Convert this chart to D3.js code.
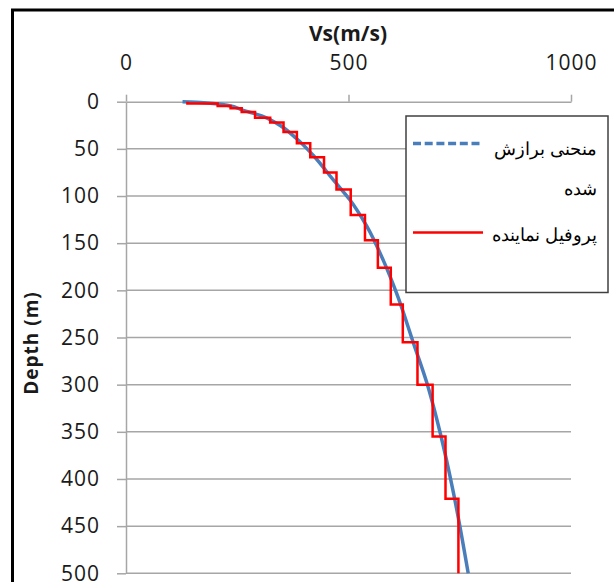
<!DOCTYPE html>
<html>
<head>
<meta charset="utf-8">
<script src="https://cdn.jsdelivr.net/npm/d3@7"></script>
<style>
  body { margin: 0; background: #fff; }
  svg { display: block; }
  text { font-family: "Open Sans", sans-serif; }
</style>
</head>
<body>
<div id="chart"></div>
<script>
// axis ticks
var vsTicks = [0, 500, 1000];
var depthTicks = [0, 50, 100, 150, 200, 250, 300, 350, 400, 450, 500];

// representative profile (red steps): layer top, bottom, Vs
var layerTop    = [0, 2, 4.5, 7, 11, 17, 22, 32, 44, 59, 75, 93, 120, 147, 176, 215, 255, 300, 355, 421];
var layerBottom = [2, 4.5, 7, 11, 17, 22, 32, 44, 59, 75, 93, 120, 147, 176, 215, 255, 300, 355, 421, 500];
var layerVs     = [138, 206, 235, 260, 290, 324, 354, 384, 414, 445, 473, 505, 537, 566, 595, 622, 655, 689, 718, 747];

// fitted curve (blue)
var fitDepth = [0, 1, 4, 9, 15, 23, 39, 57, 83, 104, 132, 168, 203, 256, 298, 351, 415, 500];
var fitVs    = [127, 175, 230, 262, 305, 339, 383, 421, 466, 503, 541, 578, 608, 646, 676, 706, 736, 769];

var legendLines = [["منحنی برازش", "شده"], ["پروفیل نماینده"]];

(function() {
  var svg = d3
    .select("#chart")
    .append("svg")
    .attr("width", 614)
    .attr("height", 582);

  var x = d3.scaleLinear().domain([0, 1000]).range([126, 571]);
  var y = d3.scaleLinear().domain([0, 500]).range([101.7, 573.3]);
  var grey = "#a6a6a6";

  // outer frame (top + left)
  svg.append("path")
    .attr("d", "M12.5,582 V10 H614")
    .attr("fill", "none")
    .attr("stroke", "#000")
    .attr("stroke-width", 3);

  // horizontal gridlines
  svg.append("g")
    .selectAll("line")
    .data(depthTicks.slice(1))
    .join("line")
    .attr("x1", x(0))
    .attr("x2", x(1000))
    .attr("y1", d => y(d))
    .attr("y2", d => y(d))
    .attr("stroke", grey)
    .attr("stroke-width", 1.5);

  var xAxis = svg.append("g")
    .attr("transform", `translate(0,${y(0)})`)
    .call(d3.axisTop(x).tickValues(vsTicks).tickFormat(d3.format("d"))
      .tickSize(7).tickPadding(25).tickSizeOuter(0));

  var yAxis = svg.append("g")
    .attr("transform", `translate(${x(0)},0)`)
    .call(d3.axisLeft(y).tickValues(depthTicks).tickFormat(d3.format("d"))
      .tickSize(9).tickPadding(17).tickSizeOuter(0));

  [xAxis, yAxis].forEach(function(g) {
    g.select(".domain").attr("stroke", grey).attr("stroke-width", 1.5);
    g.selectAll(".tick line").attr("stroke", grey).attr("stroke-width", 1.5);
    g.selectAll(".tick text")
      .attr("font-family", "Open Sans")
      .attr("font-size", 21)
      .attr("letter-spacing", 1)
      .attr("fill", "#1a1a1a");
  });

  // axis titles
  svg.append("text")
    .attr("x", 348)
    .attr("y", 41)
    .attr("text-anchor", "middle")
    .attr("font-weight", "bold")
    .attr("font-size", 21)
    .attr("fill", "#1a1a1a")
    .text("Vs(m/s)");

  svg.append("text")
    .attr("transform", "translate(38,343) rotate(-90)")
    .attr("text-anchor", "middle")
    .attr("font-weight", "bold")
    .attr("font-size", 19)
    .attr("letter-spacing", 1)
    .attr("fill", "#1a1a1a")
    .text("Depth (m)");

  // fitted curve
  var fitPts = fitDepth.map((d, i) => [fitVs[i], d]);
  svg.append("path")
    .datum(fitPts)
    .attr("fill", "none")
    .attr("stroke", "#4a7ebb")
    .attr("stroke-width", 3.5)
    .attr("d", d3.line().x(d => x(d[0])).y(d => y(d[1])).curve(d3.curveMonotoneY));

  // step profile
  var stepPts = [];
  layerVs.forEach(function(v, i) {
    stepPts.push([v, layerTop[i]]);
    stepPts.push([v, layerBottom[i]]);
  });
  svg.append("path")
    .datum(stepPts)
    .attr("fill", "none")
    .attr("stroke", "#ff0000")
    .attr("stroke-width", 2.5)
    .attr("d", d3.line().x(d => x(d[0])).y(d => y(d[1])));

  // legend
  var lg = svg.append("g");
  lg.append("rect")
    .attr("x", 406)
    .attr("y", 116)
    .attr("width", 202)
    .attr("height", 176.5)
    .attr("fill", "#fff")
    .attr("stroke", "#404040")
    .attr("stroke-width", 1.5);

  lg.append("line")
    .attr("x1", 413).attr("x2", 483)
    .attr("y1", 143.5).attr("y2", 143.5)
    .attr("stroke", "#4a7ebb")
    .attr("stroke-width", 3.5)
    .attr("stroke-dasharray", "8,3.7");

  lg.append("line")
    .attr("x1", 413).attr("x2", 483)
    .attr("y1", 232.5).attr("y2", 232.5)
    .attr("stroke", "#ff0000")
    .attr("stroke-width", 2.5);

  var lineY = [[155, 195], [241]];
  legendLines.forEach(function(lines, i) {
    lines.forEach(function(t, j) {
      lg.append("text")
        .attr("x", 597)
        .attr("y", lineY[i][j])
        .attr("text-anchor", "end")
        .attr("font-family", "DejaVu Sans")
        .attr("font-size", 18)
        .attr("fill", "#000")
        .text(t);
    });
  });
})();
</script>
</body>
</html>
